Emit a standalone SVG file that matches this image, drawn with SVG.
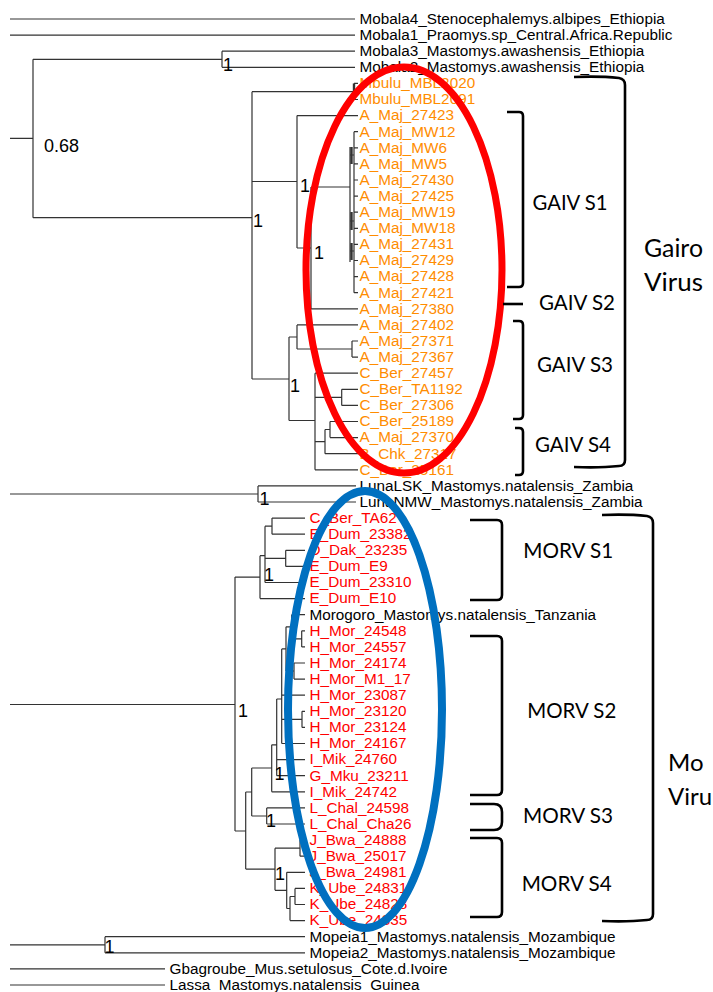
<svg xmlns="http://www.w3.org/2000/svg" width="713" height="992" viewBox="0 0 713 992">
<style>
.bg{fill:#fff}
.tr{fill:none;stroke:#333;stroke-width:1.2}
.th{fill:none;stroke:#333;stroke-width:2.4}
.t{font-family:"Liberation Sans",Arial,sans-serif;font-size:15.3px;fill:#000}
.o{fill:#FF8C00}
.r{fill:#FF0000}
.n{font-family:"Liberation Sans",Arial,sans-serif;font-size:18px;fill:#000}
.br{fill:none;stroke:#000;stroke-width:2.6;stroke-linecap:butt}
.bl{font-family:Lato,"Open Sans",sans-serif;font-size:21px;fill:#000}
.vl{font-family:Lato,"Open Sans",sans-serif;font-size:25px;fill:#000}
.vm{font-family:Lato,"Open Sans",sans-serif;font-size:24px;fill:#000}
.el{fill:none}
</style>
<rect class="bg" width="713" height="992"/>
<g id="connectors">
<path class="tr" d="M10,19H355M10,35.1H355M10,138.3H33M33,59.3V217.7M33,59.3H222M222,51.2V67.3M222,51.2H355M222,67.3H355"/>
<path class="tr" d="M33,217.7H252M252,91.7V379M252,91.7H354M354,83.4H358M354,99.5H358M252,181.5H297M297,115.6V248M297,115.6H358M297,248H311M311,187V308.8M311,308.8H358M311,187H350"/>
<path class="th" d="M354,83.4V99.5"/>
<path class="tr" d="M350,147V262M354,131.7V292.7M350,155H354M350,221H354M350,251H354M354,131.7H358M354,147.8H358M354,163.9H358M354,180H358M354,196.1H358M354,212.2H358M354,228.3H358M354,244.4H358M354,260.5H358M354,276.6H358M354,292.7H358"/>
<path class="th" d="M351.5,147V164M351.5,212V230M351.5,243V260"/>
<path class="tr" d="M252,379H289M289,337V420.5M289,337H297M297,324.9V349M297,324.9H358M297,349H352M352,341V357.1M352,341H358M352,357.1H358M289,420.5H315M315,373.2V469.8M315,373.2H358M315,469.8H358M315,397.3H341.7M341.7,389.3V405.4M341.7,389.3H358M341.7,405.4H358M315,441.6H325M325,429.5V453.7M325,453.7H358M325,429.5H330M330,421.5V437.6M330,421.5H358M330,437.6H358"/>
<path class="tr" d="M10,494H258M258,485.9V502M258,485.9H356M258,502H356"/>
<path class="tr" d="M10,704.5H235M235,577.1V831M235,577.1H260M260,555.7V598.6M260,598.6H305M260,555.7H265M265,526.2V582.5M265,582.5H305M265,526.2H272M272,518.1V534.2M272,518.1H305M272,534.2H305M265,558.4H285.7M285.7,550.3V566.4M285.7,550.3H305M285.7,566.4H305"/>
<path class="tr" d="M235,831H245.7M245.7,792V869.1M245.7,792H251.7M251.7,768V816M251.7,816H266.7M266.7,807.9V824M266.7,807.9H305M266.7,824H305M251.7,768H271.7M271.7,744.8V791.8M271.7,791.8H305M271.7,744.8H276.7M276.7,699V775.7M276.7,759.6H305M276.7,775.7H305"/>
<path class="tr" d="M276.7,699H281.7M281.7,648.9V743.5M281.7,695.2H305M281.7,719.4H302M302,711.3V727.4M302,711.3H305M302,727.4H305M281.7,743.5H305M281.7,648.9H286M286,626.8V671M286,626.8H291.7M291.7,614.7V638.9M291.7,614.7H305M291.7,638.9H301.7M301.7,630.8V646.9M301.7,630.8H305M301.7,646.9H305M286,671H294M294,663V679.1M294,663H305M294,679.1H305"/>
<path class="tr" d="M245.7,869.1H275M275,848.2V890.3M275,848.2H300M300,840.1V856.2M300,840.1H305M300,856.2H305M275,890.3H286.7M286.7,872.3V908.5M286.7,872.3H305M286.7,908.5H290M290,896.5V920.6M290,920.6H305M290,896.5H295M295,888.4V904.5M295,888.4H305M295,904.5H305"/>
<path class="tr" d="M10,944.8H105M105,936.7V952.8M105,936.7H305M105,952.8H305M10,968.9H165M10,985H165"/>
</g>
<g id="support-values">
<text class="n" x="223" y="71">1</text>
<text class="n" x="44" y="151.5">0.68</text>
<text class="n" x="253" y="227">1</text>
<text class="n" x="300" y="192">1</text>
<text class="n" x="314" y="258.5">1</text>
<text class="n" x="290" y="392">1</text>
<text class="n" x="259.5" y="505">1</text>
<text class="n" x="264" y="581">1</text>
<text class="n" x="238" y="717">1</text>
<text class="n" x="274.5" y="780">1</text>
<text class="n" x="266" y="827">1</text>
<text class="n" x="275" y="880">1</text>
<text class="n" x="104.5" y="953">1</text>
</g>
<g id="leaves">
<text class="t" x="359.5" y="23.8">Mobala4_Stenocephalemys.albipes_Ethiopia</text>
<text class="t" x="359.5" y="39.9">Mobala1_Praomys.sp_Central.Africa.Republic</text>
<text class="t" x="359.5" y="56">Mobala3_Mastomys.awashensis_Ethiopia</text>
<text class="t" x="359.5" y="72.1">Mobala2_Mastomys.awashensis_Ethiopia</text>
<text class="t o" x="359.5" y="88.2">Mbulu_MBL2020</text>
<text class="t o" x="359.5" y="104.3">Mbulu_MBL2091</text>
<text class="t o" x="359.5" y="120.4">A_Maj_27423</text>
<text class="t o" x="359.5" y="136.5">A_Maj_MW12</text>
<text class="t o" x="359.5" y="152.6">A_Maj_MW6</text>
<text class="t o" x="359.5" y="168.7">A_Maj_MW5</text>
<text class="t o" x="359.5" y="184.8">A_Maj_27430</text>
<text class="t o" x="359.5" y="200.9">A_Maj_27425</text>
<text class="t o" x="359.5" y="217">A_Maj_MW19</text>
<text class="t o" x="359.5" y="233.1">A_Maj_MW18</text>
<text class="t o" x="359.5" y="249.2">A_Maj_27431</text>
<text class="t o" x="359.5" y="265.3">A_Maj_27429</text>
<text class="t o" x="359.5" y="281.4">A_Maj_27428</text>
<text class="t o" x="359.5" y="297.5">A_Maj_27421</text>
<text class="t o" x="359.5" y="313.6">A_Maj_27380</text>
<text class="t o" x="359.5" y="329.7">A_Maj_27402</text>
<text class="t o" x="359.5" y="345.8">A_Maj_27371</text>
<text class="t o" x="359.5" y="361.9">A_Maj_27367</text>
<text class="t o" x="359.5" y="378">C_Ber_27457</text>
<text class="t o" x="359.5" y="394.1">C_Ber_TA1192</text>
<text class="t o" x="359.5" y="410.2">C_Ber_27306</text>
<text class="t o" x="359.5" y="426.3">C_Ber_25189</text>
<text class="t o" x="359.5" y="442.4">A_Maj_27370</text>
<text class="t o" x="359.5" y="458.5">B_Chk_27317</text>
<text class="t o" x="359.5" y="474.6">C_Ber_25161</text>
<text class="t" x="359.5" y="490.7">LunaLSK_Mastomys.natalensis_Zambia</text>
<text class="t" x="359.5" y="506.8">LunaNMW_Mastomys.natalensis_Zambia</text>
<text class="t r" x="309.5" y="522.9">C_Ber_TA62</text>
<text class="t r" x="309.5" y="539">E_Dum_23382</text>
<text class="t r" x="309.5" y="555.1">D_Dak_23235</text>
<text class="t r" x="309.5" y="571.2">E_Dum_E9</text>
<text class="t r" x="309.5" y="587.3">E_Dum_23310</text>
<text class="t r" x="309.5" y="603.4">E_Dum_E10</text>
<text class="t" x="309.5" y="619.5">Morogoro_Mastomys.natalensis_Tanzania</text>
<text class="t r" x="309.5" y="635.6">H_Mor_24548</text>
<text class="t r" x="309.5" y="651.7">H_Mor_24557</text>
<text class="t r" x="309.5" y="667.8">H_Mor_24174</text>
<text class="t r" x="309.5" y="683.9">H_Mor_M1_17</text>
<text class="t r" x="309.5" y="700">H_Mor_23087</text>
<text class="t r" x="309.5" y="716.1">H_Mor_23120</text>
<text class="t r" x="309.5" y="732.2">H_Mor_23124</text>
<text class="t r" x="309.5" y="748.3">H_Mor_24167</text>
<text class="t r" x="309.5" y="764.4">I_Mik_24760</text>
<text class="t r" x="309.5" y="780.5">G_Mku_23211</text>
<text class="t r" x="309.5" y="796.6">I_Mik_24742</text>
<text class="t r" x="309.5" y="812.7">L_Chal_24598</text>
<text class="t r" x="309.5" y="828.8">L_Chal_Cha26</text>
<text class="t r" x="309.5" y="844.9">J_Bwa_24888</text>
<text class="t r" x="309.5" y="861">J_Bwa_25017</text>
<text class="t r" x="309.5" y="877.1">J_Bwa_24981</text>
<text class="t r" x="309.5" y="893.2">K_Ube_24831</text>
<text class="t r" x="309.5" y="909.3">K_Ube_24828</text>
<text class="t r" x="309.5" y="925.4">K_Ube_24835</text>
<text class="t" x="309.5" y="941.5">Mopeia1_Mastomys.natalensis_Mozambique</text>
<text class="t" x="309.5" y="957.6">Mopeia2_Mastomys.natalensis_Mozambique</text>
<text class="t" x="169.5" y="973.7">Gbagroube_Mus.setulosus_Cote.d.Ivoire</text>
<text class="t" x="169.5" y="989.8">Lassa_Mastomys.natalensis_Guinea</text>
</g>
<g id="gairo-ellipse"><ellipse class="el" cx="404" cy="270" rx="98" ry="203" stroke="#FF0000" stroke-width="7"/></g>
<g id="morogoro-ellipse"><ellipse class="el" cx="365" cy="709.5" rx="77" ry="218.5" stroke="#0070C0" stroke-width="8"/></g>
<g id="gaiv-s1"><path class="br" d="M507,112H519Q523,112 523,116V283Q523,287 519,287H507"/><text class="bl" x="532.5" y="210" textLength="75" lengthAdjust="spacingAndGlyphs">GAIV S1</text></g>
<g id="gaiv-s2"><path class="br" d="M503,304H523"/><text class="bl" x="539" y="309.5" textLength="76" lengthAdjust="spacingAndGlyphs">GAIV S2</text></g>
<g id="gaiv-s3"><path class="br" d="M513,321H519Q523,321 523,325V415Q523,419 519,419H513"/><text class="bl" x="537" y="371.7" textLength="76" lengthAdjust="spacingAndGlyphs">GAIV S3</text></g>
<g id="gaiv-s4"><path class="br" d="M515,428H519Q523,428 523,432V471Q523,475 519,475H515"/><text class="bl" x="535" y="451.7" textLength="76" lengthAdjust="spacingAndGlyphs">GAIV S4</text></g>
<g id="gairo-virus"><path class="br" d="M574,77Q600,76 619,78Q625,79 625,85V460Q625,466 619,466Q600,468 574,467"/><text class="vl" x="644" y="256.5" textLength="59" lengthAdjust="spacingAndGlyphs">Gairo</text><text class="vl" x="644" y="290.5" textLength="59" lengthAdjust="spacingAndGlyphs">Virus</text></g>
<g id="morv-s1"><path class="br" d="M470,520H497Q502,520 502,525V595Q502,600 497,600H470"/><text class="bl" x="523.3" y="558.3" textLength="90" lengthAdjust="spacingAndGlyphs">MORV S1</text></g>
<g id="morv-s2"><path class="br" d="M470,636H497Q502,636 502,641V790Q502,795 497,795H470"/><text class="bl" x="527.3" y="718.3" textLength="89" lengthAdjust="spacingAndGlyphs">MORV S2</text></g>
<g id="morv-s3"><path class="br" d="M470,804H494Q502,804 502,812V822Q502,830 494,830H470"/><text class="bl" x="523" y="823" textLength="90" lengthAdjust="spacingAndGlyphs">MORV S3</text></g>
<g id="morv-s4"><path class="br" d="M470,838H497Q502,838 502,843V912Q502,917 497,917H470"/><text class="bl" x="521.7" y="890.5" textLength="90" lengthAdjust="spacingAndGlyphs">MORV S4</text></g>
<g id="morogoro-virus"><path class="br" d="M602,515Q628,514 647,516Q653,517 653,523V914Q653,920 647,920Q628,922 602,921"/><text class="vm" x="668" y="771">Mo</text><text class="vm" x="668" y="805">Viru</text></g>
</svg>
